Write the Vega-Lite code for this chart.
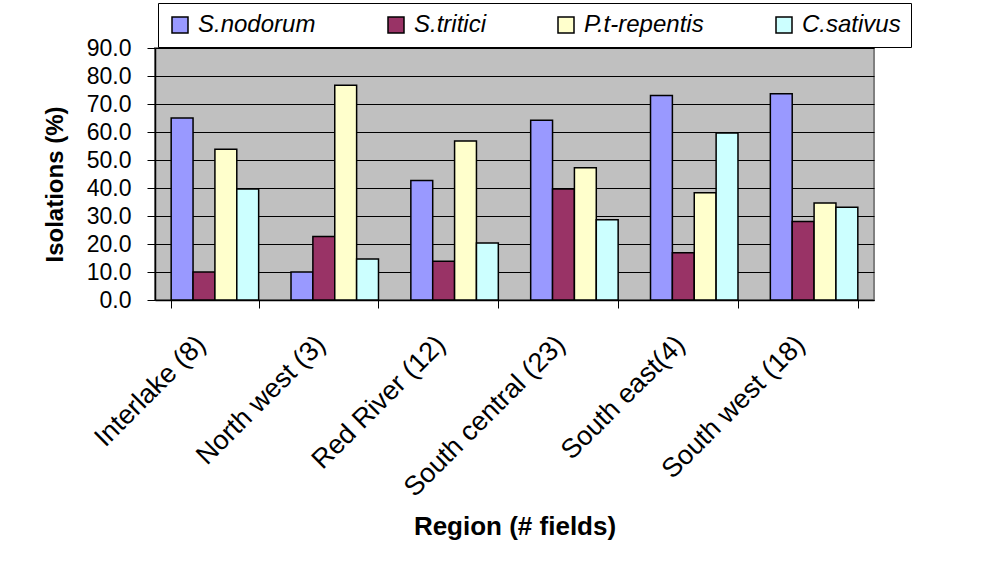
{
  "$schema": "https://vega.github.io/schema/vega-lite/v6.json",
  "width": 719,
  "height": 252,
  "autosize": {"type": "none"},
  "padding": {"left": 155, "top": 48, "right": 121, "bottom": 273},
  "background": "white",
  "config": {
    "font": "Liberation Sans",
    "view": {"fill": "#C0C0C0", "stroke": "#808080", "strokeWidth": 2}
  },
  "data": {
    "values": [
      {"region": "Interlake (8)", "species": "S.nodorum", "value": 65.0},
      {"region": "Interlake (8)", "species": "S.tritici", "value": 10.0},
      {"region": "Interlake (8)", "species": "P.t-repentis", "value": 53.8},
      {"region": "Interlake (8)", "species": "C.sativus", "value": 39.6},
      {"region": "North west (3)", "species": "S.nodorum", "value": 10.0},
      {"region": "North west (3)", "species": "S.tritici", "value": 22.7},
      {"region": "North west (3)", "species": "P.t-repentis", "value": 76.7},
      {"region": "North west (3)", "species": "C.sativus", "value": 14.6},
      {"region": "Red River (12)", "species": "S.nodorum", "value": 42.7},
      {"region": "Red River (12)", "species": "S.tritici", "value": 13.8},
      {"region": "Red River (12)", "species": "P.t-repentis", "value": 56.8},
      {"region": "Red River (12)", "species": "C.sativus", "value": 20.4},
      {"region": "South central (23)", "species": "S.nodorum", "value": 64.2},
      {"region": "South central (23)", "species": "S.tritici", "value": 39.6},
      {"region": "South central (23)", "species": "P.t-repentis", "value": 47.2},
      {"region": "South central (23)", "species": "C.sativus", "value": 28.7},
      {"region": "South east(4)", "species": "S.nodorum", "value": 73.0},
      {"region": "South east(4)", "species": "S.tritici", "value": 16.9},
      {"region": "South east(4)", "species": "P.t-repentis", "value": 38.3},
      {"region": "South east(4)", "species": "C.sativus", "value": 59.6},
      {"region": "South west (18)", "species": "S.nodorum", "value": 73.7},
      {"region": "South west (18)", "species": "S.tritici", "value": 28.0},
      {"region": "South west (18)", "species": "P.t-repentis", "value": 34.6},
      {"region": "South west (18)", "species": "C.sativus", "value": 33.1}
    ]
  },
  "mark": {"type": "bar", "stroke": "black", "strokeWidth": 1.5},
  "encoding": {
    "x": {
      "field": "region",
      "type": "nominal",
      "sort": null,
      "scale": {"paddingInner": 0.27, "paddingOuter": 0.135},
      "axis": {
        "title": "Region (# fields)",
        "titleFontSize": 26,
        "titleFontWeight": "bold",
        "titleColor": "black",
        "titleY": 226,
        "titleBaseline": "middle",
        "labelAngle": -45,
        "labelAlign": "right",
        "labelBaseline": "middle",
        "labelFontSize": 27,
        "labelColor": "black",
        "labelPadding": 32,
        "labelOffset": -14,
        "labelLimit": 500,
        "labelOverlap": false,
        "tickBand": "extent",
        "tickSize": 8,
        "tickColor": "black",
        "tickWidth": 1,
        "domainColor": "black",
        "domainWidth": 1.5,
        "grid": false
      }
    },
    "xOffset": {
      "field": "species",
      "type": "nominal",
      "sort": ["S.nodorum", "S.tritici", "P.t-repentis", "C.sativus"],
      "scale": {"paddingInner": 0, "paddingOuter": 0}
    },
    "y": {
      "field": "value",
      "type": "quantitative",
      "scale": {"domain": [0, 90], "nice": false},
      "axis": {
        "title": "Isolations (%)",
        "titleFontSize": 24,
        "titleFontWeight": "bold",
        "titleColor": "black",
        "titleAngle": 270,
        "titleX": -100,
        "titleY": 214,
        "titleAlign": "left",
        "titleBaseline": "middle",
        "values": [0, 10, 20, 30, 40, 50, 60, 70, 80, 90],
        "format": ".1f",
        "labelFontSize": 23,
        "labelColor": "black",
        "labelPadding": 16,
        "tickSize": 8,
        "tickColor": "black",
        "domainColor": "black",
        "domainWidth": 1.5,
        "grid": true,
        "gridColor": "black",
        "gridWidth": 1,
        "gridOpacity": 1
      }
    },
    "color": {
      "field": "species",
      "type": "nominal",
      "scale": {
        "domain": ["S.nodorum", "S.tritici", "P.t-repentis", "C.sativus"],
        "range": ["#9999FF", "#993366", "#FFFFCC", "#CCFFFF"]
      },
      "legend": {
        "title": null,
        "orient": "none",
        "direction": "horizontal",
        "legendX": 3,
        "legendY": -45,
        "padding": 10,
        "fillColor": "white",
        "strokeColor": "black",
        "symbolType": "square",
        "symbolSize": 256,
        "symbolStrokeColor": "black",
        "symbolStrokeWidth": 1.5,
        "symbolOpacity": 1,
        "labelFontSize": 24,
        "labelFontStyle": "italic",
        "labelColor": "black",
        "labelOffset": 6,
        "labelLimit": 300,
        "columnPadding": 68
      }
    }
  }
}
